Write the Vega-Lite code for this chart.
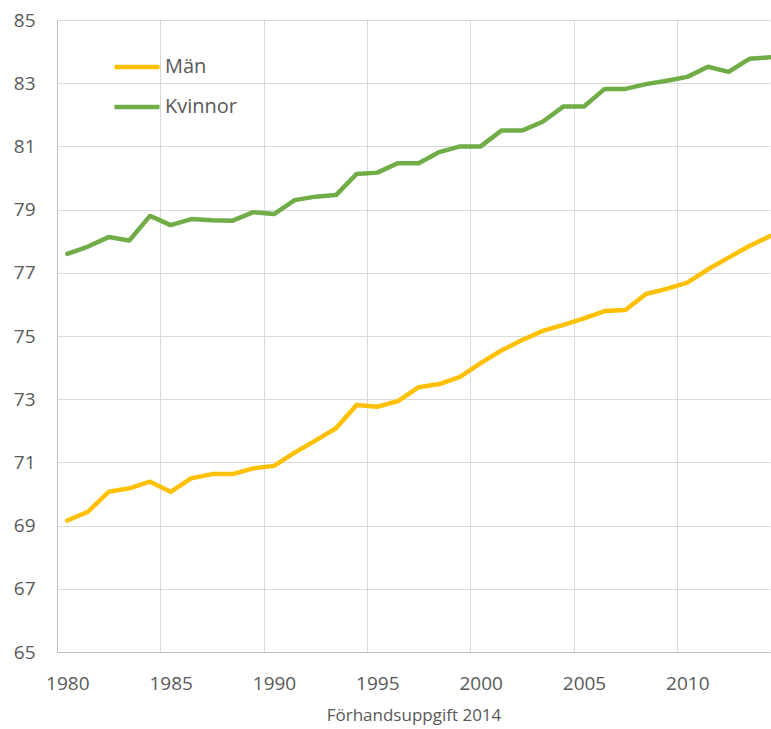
{
  "$schema": "https://vega.github.io/schema/vega-lite/v6.json",
  "width": 713,
  "height": 632,
  "autosize": "none",
  "padding": {"left": 57, "top": 20, "right": 1, "bottom": 77},
  "background": "white",
  "data": {
    "values": [
      {"year": 1980, "kon": "Män", "value": 69.16},
      {"year": 1981, "kon": "Män", "value": 69.44},
      {"year": 1982, "kon": "Män", "value": 70.07},
      {"year": 1983, "kon": "Män", "value": 70.18},
      {"year": 1984, "kon": "Män", "value": 70.39},
      {"year": 1985, "kon": "Män", "value": 70.07},
      {"year": 1986, "kon": "Män", "value": 70.5},
      {"year": 1987, "kon": "Män", "value": 70.63},
      {"year": 1988, "kon": "Män", "value": 70.63},
      {"year": 1989, "kon": "Män", "value": 70.81},
      {"year": 1990, "kon": "Män", "value": 70.89},
      {"year": 1991, "kon": "Män", "value": 71.31},
      {"year": 1992, "kon": "Män", "value": 71.69},
      {"year": 1993, "kon": "Män", "value": 72.08},
      {"year": 1994, "kon": "Män", "value": 72.82},
      {"year": 1995, "kon": "Män", "value": 72.76},
      {"year": 1996, "kon": "Män", "value": 72.94},
      {"year": 1997, "kon": "Män", "value": 73.38},
      {"year": 1998, "kon": "Män", "value": 73.48},
      {"year": 1999, "kon": "Män", "value": 73.71},
      {"year": 2000, "kon": "Män", "value": 74.14},
      {"year": 2001, "kon": "Män", "value": 74.54},
      {"year": 2002, "kon": "Män", "value": 74.87},
      {"year": 2003, "kon": "Män", "value": 75.16},
      {"year": 2004, "kon": "Män", "value": 75.35},
      {"year": 2005, "kon": "Män", "value": 75.56},
      {"year": 2006, "kon": "Män", "value": 75.79},
      {"year": 2007, "kon": "Män", "value": 75.82},
      {"year": 2008, "kon": "Män", "value": 76.33},
      {"year": 2009, "kon": "Män", "value": 76.49},
      {"year": 2010, "kon": "Män", "value": 76.69},
      {"year": 2011, "kon": "Män", "value": 77.11},
      {"year": 2012, "kon": "Män", "value": 77.48},
      {"year": 2013, "kon": "Män", "value": 77.85},
      {"year": 2014, "kon": "Män", "value": 78.16},
      {"year": 1980, "kon": "Kvinnor", "value": 77.6},
      {"year": 1981, "kon": "Kvinnor", "value": 77.83},
      {"year": 1982, "kon": "Kvinnor", "value": 78.13},
      {"year": 1983, "kon": "Kvinnor", "value": 78.02},
      {"year": 1984, "kon": "Kvinnor", "value": 78.8},
      {"year": 1985, "kon": "Kvinnor", "value": 78.51},
      {"year": 1986, "kon": "Kvinnor", "value": 78.7},
      {"year": 1987, "kon": "Kvinnor", "value": 78.66},
      {"year": 1988, "kon": "Kvinnor", "value": 78.65},
      {"year": 1989, "kon": "Kvinnor", "value": 78.92},
      {"year": 1990, "kon": "Kvinnor", "value": 78.86},
      {"year": 1991, "kon": "Kvinnor", "value": 79.3},
      {"year": 1992, "kon": "Kvinnor", "value": 79.41},
      {"year": 1993, "kon": "Kvinnor", "value": 79.46},
      {"year": 1994, "kon": "Kvinnor", "value": 80.13},
      {"year": 1995, "kon": "Kvinnor", "value": 80.17},
      {"year": 1996, "kon": "Kvinnor", "value": 80.47},
      {"year": 1997, "kon": "Kvinnor", "value": 80.47},
      {"year": 1998, "kon": "Kvinnor", "value": 80.82},
      {"year": 1999, "kon": "Kvinnor", "value": 81.0},
      {"year": 2000, "kon": "Kvinnor", "value": 81.0},
      {"year": 2001, "kon": "Kvinnor", "value": 81.5},
      {"year": 2002, "kon": "Kvinnor", "value": 81.5},
      {"year": 2003, "kon": "Kvinnor", "value": 81.78},
      {"year": 2004, "kon": "Kvinnor", "value": 82.26},
      {"year": 2005, "kon": "Kvinnor", "value": 82.26},
      {"year": 2006, "kon": "Kvinnor", "value": 82.82},
      {"year": 2007, "kon": "Kvinnor", "value": 82.82},
      {"year": 2008, "kon": "Kvinnor", "value": 82.97},
      {"year": 2009, "kon": "Kvinnor", "value": 83.08},
      {"year": 2010, "kon": "Kvinnor", "value": 83.2},
      {"year": 2011, "kon": "Kvinnor", "value": 83.52},
      {"year": 2012, "kon": "Kvinnor", "value": 83.36},
      {"year": 2013, "kon": "Kvinnor", "value": 83.77},
      {"year": 2014, "kon": "Kvinnor", "value": 83.82}
    ]
  },
  "mark": {"type": "line", "strokeWidth": 4.5, "strokeJoin": "round", "strokeCap": "round"},
  "encoding": {
    "x": {
      "field": "year",
      "type": "quantitative",
      "scale": {"domain": [1979.5, 2014], "nice": false, "zero": false},
      "axis": {
        "values": [1979.5, 1980, 1984.5, 1985, 1989.5, 1990, 1994.5, 1995, 1999.5, 2000, 2004.5, 2005, 2009.5, 2010],
        "format": "d",
        "labelExpr": "datum.value % 1 == 0 ? datum.label : ''",
        "grid": true,
        "gridColor": "#d9d9d9",
        "gridWidth": 1,
        "gridOpacity": {"condition": {"test": "datum.value % 1 != 0", "value": 1}, "value": 0},
        "ticks": false,
        "domainColor": "#bfbfbf",
        "labelPadding": 22,
        "labelFont": "Open Sans",
        "labelFontSize": 19,
        "labelColor": "#595959",
        "labelOverlap": false,
        "labelFlush": false,
        "title": "Förhandsuppgift 2014",
        "titleFont": "Open Sans",
        "titleFontSize": 17,
        "titleFontWeight": "normal",
        "titleColor": "#595959",
        "titlePadding": 14
      }
    },
    "y": {
      "field": "value",
      "type": "quantitative",
      "scale": {"domain": [65, 85], "nice": false, "zero": false},
      "axis": {
        "values": [65, 67, 69, 71, 73, 75, 77, 79, 81, 83, 85],
        "grid": true,
        "gridColor": "#d9d9d9",
        "gridWidth": 1,
        "ticks": false,
        "domainColor": "#bfbfbf",
        "labelPadding": 22,
        "labelFont": "Open Sans",
        "labelFontSize": 19,
        "labelColor": "#595959",
        "labelOverlap": false,
        "title": null
      }
    },
    "color": {
      "field": "kon",
      "type": "nominal",
      "scale": {"domain": ["Män", "Kvinnor"], "range": ["#FFC000", "#70AD47"]},
      "legend": {
        "orient": "none",
        "legendX": 55,
        "legendY": 22,
        "title": null,
        "direction": "vertical",
        "symbolType": "stroke",
        "symbolSize": 2025,
        "symbolStrokeWidth": 4.5,
        "labelFont": "Open Sans",
        "labelFontSize": 20,
        "labelColor": "#595959",
        "labelOffset": 3,
        "rowPadding": 5
      }
    }
  },
  "config": {"view": {"stroke": null}}
}
